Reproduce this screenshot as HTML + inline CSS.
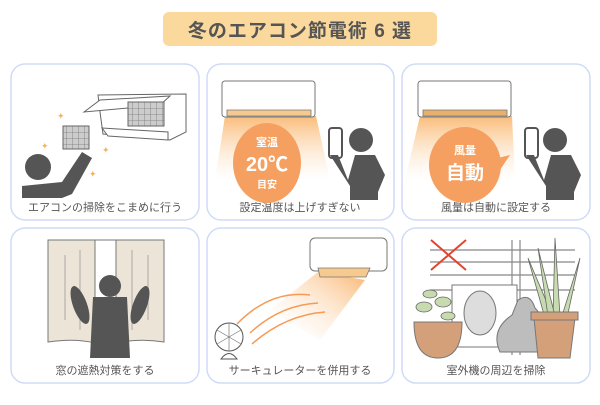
<!DOCTYPE html>
<html><head><meta charset="utf-8"><style>
body{margin:0;width:600px;height:400px;background:#fff;overflow:hidden;font-family:"Liberation Sans","Noto Sans CJK JP",sans-serif}
</style></head><body>
<svg width="600" height="400" viewBox="0 0 600 400" xmlns="http://www.w3.org/2000/svg" font-family="Liberation Sans, Noto Sans CJK JP, sans-serif">
<defs>
<linearGradient id="warm" x1="0" y1="0" x2="0" y2="1"><stop offset="0" stop-color="#f9b46a" stop-opacity=".9"/><stop offset="1" stop-color="#fde3c4" stop-opacity="0"/></linearGradient>
<linearGradient id="warm2" x1="1" y1="0" x2="0" y2="1"><stop offset="0" stop-color="#f7a44e"/><stop offset="1" stop-color="#fff" stop-opacity="0"/></linearGradient>
<pattern id="grid" width="6" height="6" patternUnits="userSpaceOnUse"><rect width="6" height="6" fill="#ccc"/><path d="M0 0H6M0 0V6" stroke="#777" stroke-width=".8"/></pattern>
</defs>
<rect x="163" y="12" width="274" height="34" rx="6" fill="#fbd89b"/>
<text x="300" y="37" text-anchor="middle" font-size="19" font-weight="bold" fill="#555" letter-spacing="1">冬のエアコン節電術 6 選</text>
<g fill="#fff" stroke="#cfdcf6" stroke-width="1.5">
<rect x="11" y="64" width="188" height="156" rx="14"/><rect x="207" y="64" width="187" height="156" rx="14"/><rect x="402" y="64" width="188" height="156" rx="14"/>
<rect x="11" y="228" width="188" height="155" rx="14"/><rect x="207" y="228" width="187" height="155" rx="14"/><rect x="402" y="228" width="188" height="155" rx="14"/>
</g>
<g font-size="11" fill="#555" text-anchor="middle">
<text x="105" y="211">エアコンの掃除をこまめに行う</text>
<text x="300" y="211">設定温度は上げすぎない</text>
<text x="496" y="211">風量は自動に設定する</text>
<text x="105" y="374">窓の遮熱対策をする</text>
<text x="300" y="374">サーキュレーターを併用する</text>
<text x="496" y="374">室外機の周辺を掃除</text>
</g>
<!-- card1 -->
<g stroke="#666" stroke-width="1" fill="#fff">
<path d="M98 95 L186 94 L186 132 L170 140 L103 134 L100 112 Z"/>
<path d="M84 112 L100 100 L170 96 L160 105 Z"/>
<path d="M102 128 L168 132 L168 140 L108 136 Z"/>
<rect x="128" y="102" width="36" height="24" fill="url(#grid)"/>
<rect x="63" y="126" width="26" height="23" fill="url(#grid)"/>
</g>
<g fill="#555"><circle cx="38" cy="167" r="13"/><path d="M22 186 L62 182 L82 152 L92 158 L72 194 L62 198 L22 198Z"/></g>
<g fill="#f7b35a" font-size="9"><text x="57" y="119">✦</text><text x="41" y="149">✦</text><text x="102" y="153">✦</text><text x="89" y="177">✦</text></g>
<!-- card2 -->
<path d="M225 116 L316 116 L330 180 L215 180Z" fill="url(#warm)"/>
<rect x="222" y="81" width="93" height="36" rx="3" fill="#fff" stroke="#777"/>
<path d="M227 110 H311 V116 H227Z" fill="#f6c98f" stroke="#777" stroke-width=".8"/>
<ellipse cx="267" cy="163" rx="34" ry="40" fill="#f5a060"/>
<g fill="#fff" text-anchor="middle" font-weight="bold"><text x="267" y="146" font-size="11">室温</text><text x="267" y="171" font-size="20">20℃</text><text x="267" y="188" font-size="10">目安</text></g>
<rect x="329" y="128" width="13" height="30" rx="3" fill="#fff" stroke="#555" stroke-width="2"/>
<g fill="#555"><circle cx="361" cy="140" r="12"/><path d="M330 155 L338 155 L348 180 L355 155 L375 155 L385 175 L378 192 L378 200 L350 200 L350 186 Z"/></g>
<!-- card3 -->
<path d="M420 116 L512 116 L515 180 L405 180Z" fill="url(#warm)"/>
<rect x="418" y="81" width="93" height="36" rx="3" fill="#fff" stroke="#777"/>
<path d="M423 110 H507 V116 H423Z" fill="#e8b06b" stroke="#777" stroke-width=".8"/>
<ellipse cx="465" cy="165" rx="36" ry="38" fill="#f5a060"/><path d="M498 158 L510 155 L500 170Z" fill="#f5a060"/>
<g fill="#fff" text-anchor="middle" font-weight="bold"><text x="465" y="154" font-size="11">風量</text><text x="465" y="179" font-size="19">自動</text></g>
<rect x="525" y="128" width="13" height="30" rx="3" fill="#fff" stroke="#555" stroke-width="2"/>
<g fill="#555"><circle cx="555" cy="140" r="12"/><path d="M526 155 L534 155 L544 180 L551 155 L571 155 L581 175 L574 192 L574 200 L546 200 L546 186 Z"/></g>
<!-- card4 -->
<rect x="48" y="240" width="116" height="100" fill="#fff" stroke="#777"/>
<path d="M48 240 H95 V343 Q75 338 48 342Z" fill="#ede4d8" stroke="#777"/>
<path d="M116 240 H164 V342 Q140 338 116 343Z" fill="#ede4d8" stroke="#777"/>
<g stroke="#999" stroke-width=".8" fill="none"><path d="M65 255 V320 M80 250 V330 M132 250 V330 M148 255 V320"/></g>
<g fill="#555"><circle cx="110" cy="286" r="11"/><path d="M93 297 H127 L130 358 H90Z"/><ellipse cx="80" cy="305" rx="7" ry="20" transform="rotate(-20 80 305)"/><ellipse cx="140" cy="305" rx="7" ry="20" transform="rotate(20 140 305)"/></g>
<!-- card5 -->
<path d="M318 272 L365 280 L320 340 L270 310Z" fill="url(#warm2)" opacity=".8"/>
<rect x="310" y="238" width="77" height="33" rx="5" fill="#fff" stroke="#777"/>
<path d="M318 268 H370 L366 277 H320Z" fill="#f6c98f" stroke="#777" stroke-width=".8"/>
<g fill="none" stroke="#f79a55" stroke-width="1.5"><path d="M237 324 Q270 290 310 295"/><path d="M250 333 Q280 305 318 303"/><path d="M252 344 Q285 315 325 312"/></g>
<circle cx="229" cy="337" r="14" fill="#fff" stroke="#555"/><path d="M217 330 L241 344 M229 323 V351 M217 344 L241 330" stroke="#777" stroke-width=".7"/>
<path d="M221 359 Q229 348 237 359Z" fill="#fff" stroke="#555"/>
<!-- card6 -->
<g stroke="#888" stroke-width="1.2"><path d="M430 250 H575 M430 262 H575 M430 275 H575 M430 290 H575 M512 240 V355 M520 240 V355"/></g>
<rect x="452" y="285" width="65" height="62" fill="#fff" stroke="#777"/>
<ellipse cx="480" cy="313" rx="16" ry="22" fill="#ddd" stroke="#777"/>
<path d="M518 300 Q530 292 535 308 Q555 330 537 352 H500 Q490 330 512 315Z" fill="#bdbdbd" stroke="#777"/>
<g stroke="#e5432e" stroke-width="2"><path d="M431 240 L466 270 M466 240 L431 270"/></g>
<path d="M414 322 H462 Q462 358 438 358 Q414 358 414 322Z" fill="#d4a07a" stroke="#777"/>
<g fill="#c8dbb0" stroke="#666" stroke-width=".8"><ellipse cx="424" cy="307" rx="8" ry="5"/><ellipse cx="443" cy="302" rx="8" ry="5"/><ellipse cx="430" cy="294" rx="7" ry="4"/><ellipse cx="448" cy="316" rx="7" ry="4"/></g>
<g fill="#c8dbb0" stroke="#666" stroke-width=".8"><path d="M545 318 L528 258 L550 310Z"/><path d="M553 316 L555 238 L560 316Z"/><path d="M562 316 L580 258 L567 318Z"/><path d="M548 316 L538 248 L555 316Z"/></g>
<path d="M534 318 H575 L570 358 H538Z" fill="#d4a07a" stroke="#777"/><rect x="531" y="312" width="47" height="8" fill="#d4a07a" stroke="#777"/>
</svg>
</body></html>
